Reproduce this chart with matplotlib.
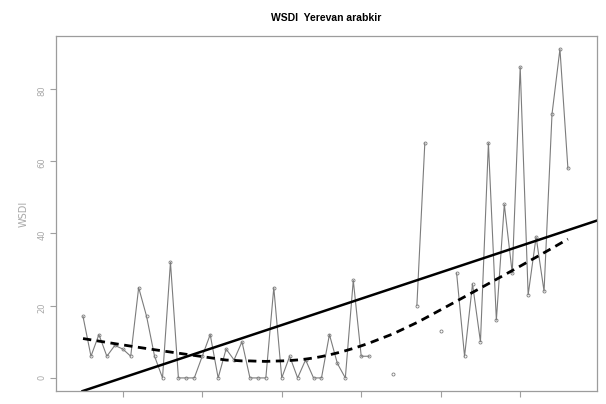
#!/usr/bin/env python3
"""
WSDI index for Yerevan arabkir, with linear trend and lowess smooth
"""
import numpy as np
import matplotlib
matplotlib.use("Agg")
import matplotlib.pyplot as plt

stationName = 'Yerevan arabkir'
indexName = 'WSDI'

years = list(range(1955, 2017))
wsdi = [17, 6, 12, 6, 9, 8, 6, 25, 17, 6,
        0, 32, 0, 0, 0, 6, 12, 0, 8, 5,
        10, 0, 0, 0, 25, 0, 6, 0, 5, 0,
        0, 12, 4, 0, 27, 6, 6, np.nan, np.nan, 1,
        np.nan, np.nan, 20, 65, np.nan, 13, np.nan, 29, 6, 26,
        10, 65, 16, 48, 29, 86, 23, 39, 24, 73,
        91, 58]
yTicks = [0, 20, 40, 60, 80]
xTicks = [1960, 1970, 1980, 1990, 2000, 2010]


def lowess(x, y, f=2. / 3., iters=3):
    # same recipe as R's lowess(): tricube weights, bisquare robustness
    n = len(x)
    r = max(min(int(round(f * n)), n), 2)
    h = np.array([np.sort(np.abs(x - x[i]))[r - 1] for i in range(n)])
    w = np.clip(np.abs((x[:, None] - x[None, :]) / h[None, :]), 0.0, 1.0)
    w = (1 - w ** 3) ** 3
    delta = np.ones(n)
    yest = np.zeros(n)
    for it in range(iters + 1):
        for i in range(n):
            wt = delta * w[:, i]
            A = np.array([[wt.sum(), (wt * x).sum()],
                          [(wt * x).sum(), (wt * x * x).sum()]])
            b = np.array([(wt * y).sum(), (wt * y * x).sum()])
            beta = np.linalg.solve(A, b)
            yest[i] = beta[0] + beta[1] * x[i]
        res = y - yest
        s = np.median(np.abs(res))
        delta = np.clip(res / (6 * s), -1, 1)
        delta = (1 - delta ** 2) ** 2
    return yest


yr = np.array(years, dtype=float)
val = np.array(wsdi, dtype=float)
ok = ~np.isnan(val)

fig = plt.figure(figsize=(6.06, 4.04), dpi=100)
ax = fig.add_axes([0.0924, 0.032, 0.8926, 0.879])

ax.plot(yr, val, '-o', color='#7c7c7c', lw=0.8, ms=2.2, mfc='none', mew=0.6)

slope, icept = np.polyfit(yr[ok], val[ok], 1)
ax.axline((yr[0], icept + slope * yr[0]), slope=slope, color='black', lw=1.8)

smooth = lowess(yr[ok], val[ok])
ax.plot(yr[ok], smooth, color='black', lw=2, dashes=(3, 2))

ax.set_xlim(1955 - 3.4, 1955 + 64.65)
ax.set_ylim(-3.64, 94.64)
ax.set_xticks(xTicks)
ax.set_xticklabels([])
ax.set_yticks(yTicks)
ax.tick_params(axis='y', labelrotation=90, labelsize=6, labelcolor='#a8a8a8',
               color='#a0a0a0', length=4, width=0.8, pad=3)
ax.tick_params(axis='x', color='#a0a0a0', length=4, width=0.8)
for sp in ax.spines.values():
    sp.set_color('#9c9c9c')
    sp.set_linewidth(0.9)
ax.set_ylabel(indexName, fontsize=7, color='#a8a8a8', labelpad=6)

fig.text(0.538, 0.955, f'{indexName}  {stationName}', ha='center', va='center',
         fontsize=7.5, fontweight='bold', family='Liberation Sans')

fig.savefig('out.png', dpi=100)
